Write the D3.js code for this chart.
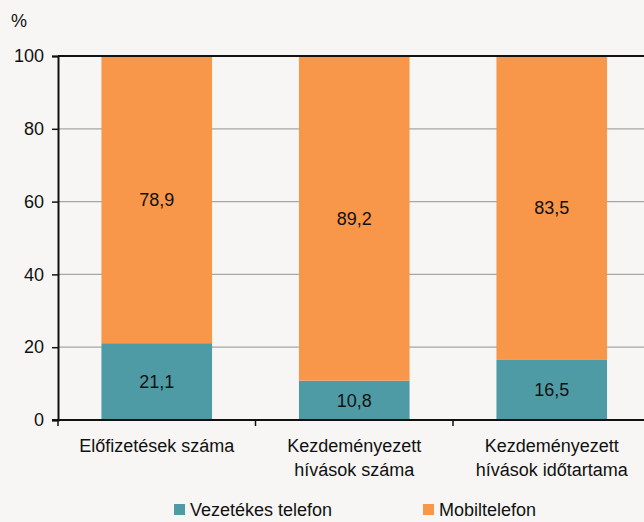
<!DOCTYPE html>
<html>
<head>
<meta charset="utf-8">
<script src="https://cdn.jsdelivr.net/npm/d3@7"></script>
<style>
  body { margin: 0; background: #f7f6f4; }
  svg { display: block; font-family: "Liberation Sans", Arial, sans-serif; }
</style>
</head>
<body>
<svg id="chart" width="644" height="522"></svg>
<script>
// categories (x labels, split into lines)
var categories = ["Előfizetések száma", "Kezdeményezett hívások száma", "Kezdeményezett hívások időtartama"];
var categoryLines = [["Előfizetések száma"], ["Kezdeményezett", "hívások száma"], ["Kezdeményezett", "hívások időtartama"]];
var seriesNames = ["Vezetékes telefon", "Mobiltelefon"];
var vezetekes = [21.1, 10.8, 16.5];
var mobil = [78.9, 89.2, 83.5];
var yTicks = [0, 20, 40, 60, 80, 100];
var colors = ["#4f9ba5", "#f8964a"];

var svg = d3.select("#chart");
const margin = {left: 58, top: 56},
      plotH = 364,
      bandW = 197.5,
      fontSize = "18px";

var x = d3.scaleBand()
    .domain(categories)
    .range([margin.left, margin.left + bandW * categories.length])
    .paddingInner(0.44)
    .paddingOuter(0.22);

var y = d3.scaleLinear().domain([0, 100]).range([margin.top + plotH, margin.top]);

//build stacked data
var rows = categories.map(function(c, i) {
    return {cat: c, v: vezetekes[i], m: mobil[i]};
});
var stack = d3.stack().keys(["v", "m"])(rows);

//gridlines
svg.append("g")
    .selectAll("line")
    .data(yTicks.filter(function(d) { return d > 0 && d < 100; }))
    .enter().append("line")
    .attr("x1", margin.left).attr("x2", 644)
    .attr("y1", function(d) { return y(d); })
    .attr("y2", function(d) { return y(d); })
    .attr("stroke", "#a6a6a6")
    .attr("stroke-width", 1.2);

//bars
var layer = svg.append("g").selectAll("g")
    .data(stack)
    .enter().append("g")
    .attr("fill", function(d, i) { return colors[i]; });

layer.selectAll("rect")
    .data(function(d) { return d; })
    .enter().append("rect")
    .attr("x", function(d) { return x(d.data.cat); })
    .attr("width", x.bandwidth())
    .attr("y", function(d) { return y(d[1]); })
    .attr("height", function(d) { return y(d[0]) - y(d[1]); });

//value labels
layer.selectAll("text")
    .data(function(d) { return d; })
    .enter().append("text")
    .attr("x", function(d) { return x(d.data.cat) + x.bandwidth() / 2; })
    .attr("y", function(d) { return (y(d[0]) + y(d[1])) / 2; })
    .attr("dy", ".35em")
    .attr("text-anchor", "middle")
    .attr("fill", "#111")
    .style("font-size", fontSize)
    .text(function(d) { return d3.format(".1f")(d[1] - d[0]).replace(".", ","); });

//top line at 100
svg.append("line")
    .attr("x1", margin.left).attr("x2", 644)
    .attr("y1", y(100)).attr("y2", y(100))
    .attr("stroke", "#111").attr("stroke-width", 2);

//y axis
var yAxis = svg.append("g")
    .attr("transform", "translate(" + margin.left + ",0)")
    .call(d3.axisLeft(y).tickValues(yTicks).tickSize(6).tickPadding(8));
yAxis.select(".domain").attr("stroke", "#111").attr("stroke-width", 2);
yAxis.selectAll(".tick line").attr("stroke", "#111").attr("stroke-width", 1.5);
yAxis.selectAll("text").style("font-size", fontSize).attr("fill", "#111")
    .style("font-family", "'Liberation Sans', Arial, sans-serif");

//x axis
var xBase = y(0);
svg.append("line")
    .attr("x1", margin.left - 6).attr("x2", 644)
    .attr("y1", xBase).attr("y2", xBase)
    .attr("stroke", "#111").attr("stroke-width", 2);

svg.append("g").selectAll("line")
    .data(d3.range(categories.length + 1))
    .enter().append("line")
    .attr("x1", function(i) { return margin.left + i * bandW; })
    .attr("x2", function(i) { return margin.left + i * bandW; })
    .attr("y1", xBase).attr("y2", xBase + 6)
    .attr("stroke", "#111").attr("stroke-width", 1.5);

var xLab = svg.append("g").selectAll("text")
    .data(categories)
    .enter().append("text")
    .attr("text-anchor", "middle")
    .attr("fill", "#111")
    .style("font-size", fontSize)
    .attr("x", function(d) { return x(d) + x.bandwidth() / 2; })
    .attr("y", xBase + 32);

xLab.selectAll("tspan")
    .data(function(d, i) { return categoryLines[i]; })
    .enter().append("tspan")
    .attr("x", function() { return d3.select(this.parentNode).attr("x"); })
    .attr("dy", function(d, i) { return i === 0 ? 0 : 24; })
    .text(function(d) { return d; });

//unit label
svg.append("text")
    .attr("x", 11).attr("y", 27)
    .attr("fill", "#111")
    .style("font-size", fontSize)
    .text("%");

//legend
var legendX = [174, 423];
var legend = svg.append("g").selectAll("g")
    .data(seriesNames)
    .enter().append("g")
    .attr("transform", function(d, i) { return "translate(" + legendX[i] + ",504)"; });
legend.append("rect")
    .attr("width", 11).attr("height", 11)
    .attr("fill", function(d, i) { return colors[i]; });
legend.append("text")
    .attr("x", 16).attr("y", 12)
    .attr("fill", "#111")
    .style("font-size", fontSize)
    .text(function(d) { return d; });
</script>
</body>
</html>
